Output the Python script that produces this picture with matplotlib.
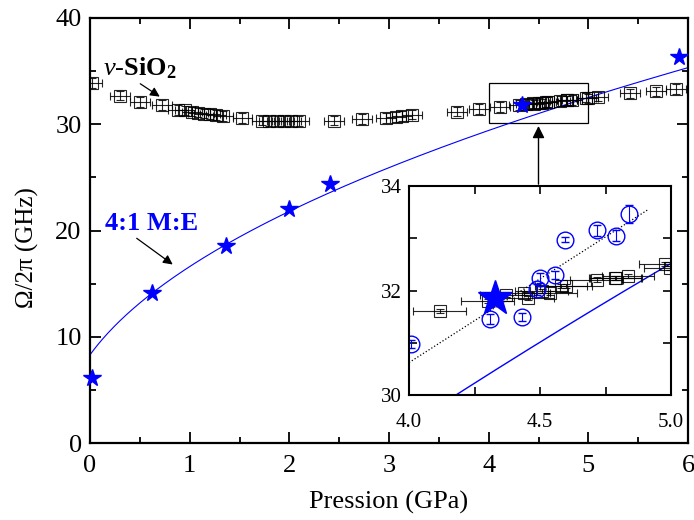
import numpy as np
import matplotlib
matplotlib.use("Agg")
import matplotlib.pyplot as plt
from matplotlib.patches import Rectangle

plt.rcParams['font.family'] = ['Liberation Serif', 'DejaVu Serif']
plt.rcParams['mathtext.fontset'] = 'custom'
plt.rcParams['mathtext.rm'] = 'Liberation Serif'
plt.rcParams['mathtext.it'] = 'Liberation Serif:italic'
plt.rcParams['mathtext.bf'] = 'Liberation Serif:bold'

# v-SiO2 (Brillouin, black squares)
sio2_p = [0.02, 0.30, 0.50, 0.72, 0.88, 0.95, 1.02, 1.08, 1.14, 1.20, 1.26, 1.33,
          1.53, 1.73, 1.80, 1.88, 1.95, 2.02, 2.10, 2.45, 2.73, 2.97, 3.07, 3.13,
          3.23, 3.68, 3.90, 4.117, 4.30, 4.37, 4.44, 4.455, 4.506, 4.54, 4.58, 4.60,
          4.716, 4.786, 4.79, 4.837, 4.977, 4.996, 5.10, 5.42, 5.68, 5.88]
sio2_f = [33.9, 32.7, 32.1, 31.8, 31.35, 31.3, 31.2, 31.1, 31.0, 30.95, 30.85, 30.8,
          30.6, 30.35, 30.3, 30.3, 30.3, 30.3, 30.3, 30.35, 30.5, 30.6, 30.7, 30.8,
          30.9, 31.2, 31.45, 31.61, 31.80, 31.92, 31.96, 31.86, 31.99, 31.96, 32.08, 32.08,
          32.21, 32.24, 32.24, 32.27, 32.50, 32.43, 32.6, 32.9, 33.1, 33.3]
sio2_perr = 0.1

# 4:1 M:E (blue stars)
me_p = [0.02, 0.62, 1.36, 2.00, 2.41, 4.33, 5.91]
me_f = [6.1, 14.1, 18.5, 22.0, 24.4, 31.85, 36.3]

# fit  f = A * (1 + k P)^n
fit_A, fit_k, fit_n = 8.3, 3.24, 0.48

# inset blue circles
circ_p = [4.006, 4.308, 4.43, 4.49, 4.50, 4.557, 4.597, 4.718, 4.79, 4.84]
circ_f = [30.97, 31.45, 31.49, 32.02, 32.24, 32.30, 32.97, 33.15, 33.05, 33.47]
circ_err = [0.08, 0.10, 0.08, 0.10, 0.10, 0.08, 0.05, 0.10, 0.10, 0.17]

# inset dotted guide line
guide_p = [4.0, 4.91]
guide_f = [30.62, 33.54]

fig = plt.figure(figsize=(6.94, 5.20), dpi=100)
ax = fig.add_axes([90 / 694, 1 - 443 / 520, 598 / 694, 425 / 520])

p_fit = np.linspace(0, 6, 300)
f_fit = fit_A * (1 + fit_k * p_fit) ** fit_n
ax.plot(p_fit, f_fit, color='blue', lw=0.8)
ax.errorbar(sio2_p, sio2_f, xerr=sio2_perr, yerr=0.45, fmt='s', ms=8, mfc='none',
            mec='black', mew=0.8, ecolor='black', elinewidth=0.8, capsize=3, capthick=0.8,
            color='black', alpha=0.85)
ax.plot(me_p, me_f, '*', color='blue', ms=13, clip_on=False, zorder=5)

ax.set_xlim(0, 6)
ax.set_ylim(0, 40)
ax.set_xticks(np.arange(0, 7, 1))
ax.set_xticks(np.arange(0.5, 6, 1), minor=True)
ax.set_yticks(np.arange(0, 41, 10))
ax.set_yticks(np.arange(5, 40, 10), minor=True)
ax.tick_params(which='both', direction='in', top=True, right=True, labelsize=19, width=1.3)
ax.tick_params(which='major', length=8)
ax.tick_params(which='minor', length=4)
ax.tick_params(axis='x', pad=9)
ax.tick_params(axis='y', pad=6)
for s in ax.spines.values():
    s.set_linewidth(1.6)
ax.set_xlabel('Pression (GPa)', fontsize=19, labelpad=10)
ax.set_ylabel('Ω/2π (GHz)', fontsize=18)
ax.yaxis.set_label_coords(-0.085, 0.46)

ax.add_patch(Rectangle((4.0, 30.1), 1.0, 3.8, fill=False, ec='black', lw=0.9))
ax.annotate('', xy=(4.5, 30.1), xytext=(4.5, 24.1),
            arrowprops=dict(arrowstyle='-|>', color='black', lw=1.0, mutation_scale=18))

ax.annotate(r'$\mathit{\nu}$-$\mathbf{SiO_2}$', xy=(0.70, 32.6), xytext=(0.13, 34.6),
            fontsize=19, color='black',
            arrowprops=dict(arrowstyle='-|>', color='black', lw=0.9, mutation_scale=14,
                            shrinkA=0, shrinkB=0, relpos=(0.45, 0.0)))
ax.annotate('4:1 M:E', xy=(0.83, 16.8), xytext=(0.15, 20.0),
            fontsize=19, color='blue', fontweight='bold',
            arrowprops=dict(arrowstyle='-|>', color='black', lw=0.9, mutation_scale=14,
                            shrinkA=0, shrinkB=0, relpos=(0.3, 0.0)))

# inset
ins = fig.add_axes([409 / 694, 1 - 395 / 520, 262 / 694, 209 / 520])
ins.plot(guide_p, guide_f, ':', color='black', lw=0.9)
ins.plot(p_fit, f_fit, color='blue', lw=1.0)
ins.errorbar(sio2_p, sio2_f, xerr=sio2_perr, yerr=0.04, fmt='s', ms=8, mfc='none',
             mec='black', mew=0.8, ecolor='black', elinewidth=0.8, capsize=3, capthick=0.8,
             color='black', alpha=0.85)
ins.errorbar(circ_p, circ_f, yerr=circ_err, fmt='o', ms=12, mfc='none', mec='blue',
             mew=1.0, ecolor='blue', elinewidth=0.8, capsize=3, capthick=0.8)
ins.plot(me_p, me_f, '*', color='blue', ms=26, zorder=5)
ins.set_xlim(4.0, 5.0)
ins.set_ylim(30, 34)
ins.set_xticks([4.0, 4.5, 5.0])
ins.set_xticks([4.25, 4.75], minor=True)
ins.set_yticks([30, 32, 34])
ins.set_yticks([31, 33], minor=True)
ins.tick_params(which='both', direction='in', top=True, right=True, labelsize=15, width=1.2)
ins.tick_params(which='major', length=6)
ins.tick_params(which='minor', length=6)
ins.tick_params(axis='x', pad=13)
ins.tick_params(axis='y', pad=5)
for s in ins.spines.values():
    s.set_linewidth(1.5)

fig.savefig('out.png', dpi=100)
